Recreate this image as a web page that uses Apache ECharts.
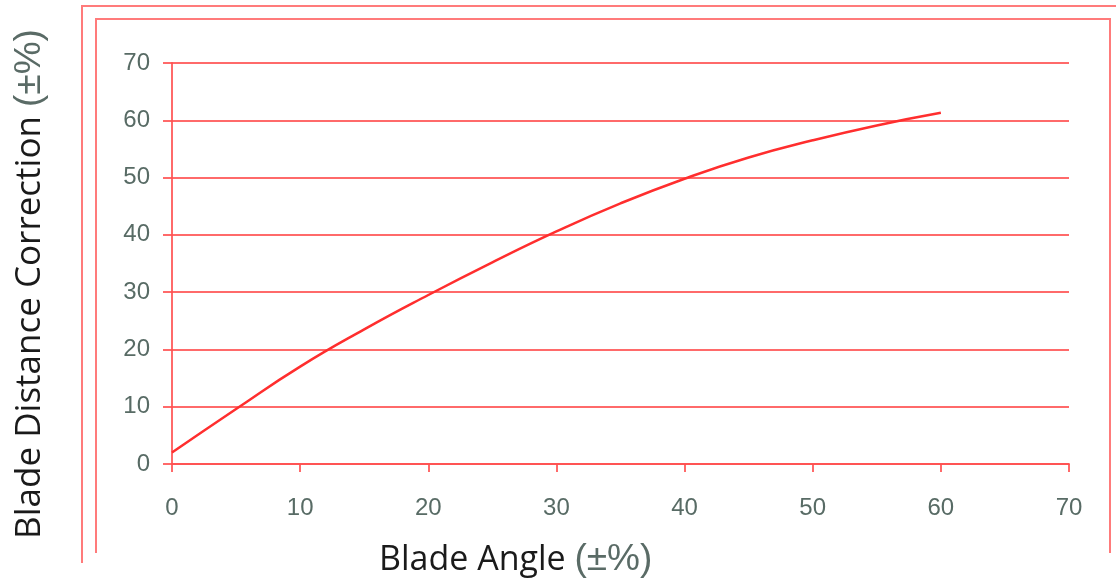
<!DOCTYPE html>
<html><head><meta charset="utf-8">
<script src="https://cdn.jsdelivr.net/npm/echarts@6/dist/echarts.min.js"></script>
<style>html,body{margin:0;padding:0;background:#fff}#c{width:1116px;height:585px}</style>
</head><body><div id="c"></div>
<script>
const bladeAngle = [0, 5, 10, 15, 20, 25, 30, 35, 40, 45, 50, 55, 60];
const distanceCorrection = [2, 9.6, 17, 23.5, 29.5, 35.2, 40.6, 45.5, 49.8, 53.5, 56.5, 59.1, 61.3];
const xTitle = 'Blade Angle';
const yTitle = 'Blade Distance Correction';
const unit = '(±%)';

const chart = echarts.init(document.getElementById('c'));
const gridRed = 'rgba(255,80,80,0.85)';
const frameRed = 'rgba(255,90,90,0.8)';
const labelColor = '#586b65';
chart.setOption({
  animation: false,
  backgroundColor: '#fff',
  grid: {left: 172, right: 47, top: 63, bottom: 121},
  xAxis: {
    type: 'value', min: 0, max: 70, interval: 10,
    axisLine: {show: true, lineStyle: {color: gridRed, width: 2}},
    axisTick: {show: true, length: 8, lineStyle: {color: gridRed, width: 2}},
    splitLine: {show: false},
    axisLabel: {color: labelColor, fontSize: 24, fontFamily: 'Liberation Sans', margin: 32}
  },
  yAxis: {
    type: 'value', min: 0, max: 70, interval: 10,
    axisLine: {show: true, lineStyle: {color: gridRed, width: 2}},
    axisTick: {show: true, length: 9, lineStyle: {color: gridRed, width: 2}},
    splitLine: {show: true, lineStyle: {color: gridRed, width: 2}},
    axisLabel: {color: labelColor, fontSize: 24, fontFamily: 'Liberation Sans', margin: 22}
  },
  graphic: [
    {type: 'polyline', shape: {points: [[82, 563], [82, 6], [1116, 6]]}, style: {stroke: frameRed, lineWidth: 2, fill: null}},
    {type: 'polyline', shape: {points: [[96, 553], [96, 19], [1110, 19], [1110, 553]]}, style: {stroke: frameRed, lineWidth: 2, fill: null}},
    {type: 'text', x: 379, y: 560, style: {
      text: '{a|' + xTitle + ' }{b|' + unit + '}', verticalAlign: 'middle',
      rich: {a: {fontSize: 34, fontFamily: 'Open Sans', fill: '#1a1a1a'}, b: {fontSize: 37, fontFamily: 'Liberation Sans', fill: '#5a6b66'}}
    }},
    {type: 'text', x: 30, y: 284, rotation: Math.PI / 2, style: {
      text: '{a|' + yTitle + ' }{b|' + unit + '}', align: 'center', verticalAlign: 'middle',
      rich: {a: {fontSize: 35, fontFamily: 'Open Sans', fill: '#1a1a1a'}, b: {fontSize: 37, fontFamily: 'Liberation Sans', fill: '#5a6b66'}}
    }}
  ],
  series: [{
    type: 'line', smooth: true, symbol: 'none',
    data: bladeAngle.map((x, i) => [x, distanceCorrection[i]]),
    lineStyle: {color: '#ff2e2e', width: 2.5}
  }]
});
</script></body></html>
